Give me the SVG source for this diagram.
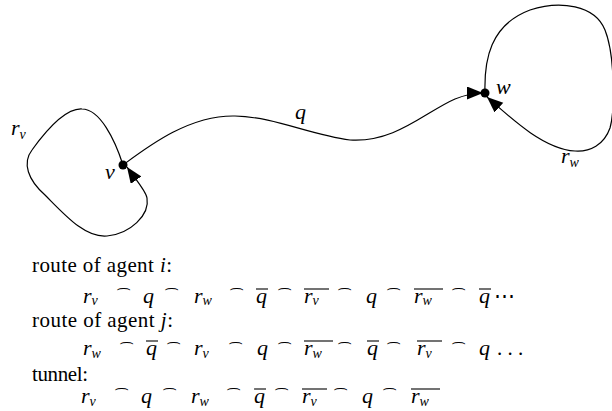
<svg xmlns="http://www.w3.org/2000/svg" width="612" height="411" viewBox="0 0 612 411">
<style>
.e{fill:none;stroke:#000;stroke-width:1.2}
.dot{fill:#000}
.rm{font-family:"Liberation Serif",serif;font-size:21px;fill:#000}
.mi{font-family:"Liberation Serif",serif;font-style:italic;font-size:22px;fill:#000}
.sb{font-size:14px}
.fr{font-family:"DejaVu Sans",sans-serif;font-size:16px;fill:#000;text-anchor:middle}
.ov{stroke:#000;stroke-width:1.1}
</style>
<defs>
<marker id="ah" markerUnits="userSpaceOnUse" markerWidth="18" markerHeight="14" refX="16" refY="6.5" orient="auto">
<path d="M0,0 L16,6.5 L0,13 Z" fill="#000"/>
</marker>
</defs>
<rect width="612" height="411" fill="#fff"/>
<g id="connectors">
<path id="q" class="e" d="M123,165 C150,145 190,115 235,116 C275,117 310,135 350,140 C395,143 425,112 455,99 C465,95 473,93 483,93" marker-end="url(#ah)"/>
<path id="rv" class="e" d="M123,165 C115,140 100,109 82,109 C65,108 45,132 32,150 C22,163 28,180 45,195 C65,215 85,238 107,236 C130,234 150,215 147,198 C146,191 136,180 127,167" marker-end="url(#ah)"/>
<path id="rw" class="e" d="M485,93 C484,60 490,25 530,10 C560,0 595,5 605,30 C615,55 615,110 610,128 C604,145 590,152 575,151 C545,149 515,122 487,97" marker-end="url(#ah)"/>
<text class="mi" x="295" y="119">q</text>
<text class="mi" x="11" y="135">r<tspan class="sb" dy="4">v</tspan></text>
<text class="mi" x="561" y="163">r<tspan class="sb" dy="4">w</tspan></text>
</g>
<g id="node-v">
<circle class="dot" cx="123" cy="165" r="4.5"/>
<text class="mi" x="105" y="179">v</text>
</g>
<g id="node-w">
<circle class="dot" cx="485" cy="93" r="4.5"/>
<text class="mi" x="496" y="94">w</text>
</g>
<g id="text">
<text class="rm" x="32" y="272" textLength="140">route of agent <tspan font-style="italic">i</tspan>:</text>
<text class="rm" x="32" y="327" textLength="141">route of agent <tspan font-style="italic">j</tspan>:</text>
<text class="rm" x="32" y="381" textLength="56">tunnel:</text>

<g id="line-i">
<text class="mi" x="83" y="303">r<tspan class="sb" dy="2">v</tspan></text>
<text class="fr" x="124" y="293" textLength="16" lengthAdjust="spacingAndGlyphs">⌢</text>
<text class="mi" x="143" y="303">q</text>
<text class="fr" x="172" y="293" textLength="16" lengthAdjust="spacingAndGlyphs">⌢</text>
<text class="mi" x="194" y="303">r<tspan class="sb" dy="2">w</tspan></text>
<text class="fr" x="237" y="293" textLength="16" lengthAdjust="spacingAndGlyphs">⌢</text>
<text class="mi" x="256" y="303">q</text>
<line class="ov" x1="256" y1="289" x2="268" y2="289"/>
<text class="fr" x="285" y="293" textLength="16" lengthAdjust="spacingAndGlyphs">⌢</text>
<text class="mi" x="304" y="303">r<tspan class="sb" dy="2">v</tspan></text>
<line class="ov" x1="304" y1="289" x2="329" y2="289"/>
<text class="fr" x="345" y="293" textLength="16" lengthAdjust="spacingAndGlyphs">⌢</text>
<text class="mi" x="366" y="303">q</text>
<text class="fr" x="394" y="293" textLength="16" lengthAdjust="spacingAndGlyphs">⌢</text>
<text class="mi" x="414" y="303">r<tspan class="sb" dy="2">w</tspan></text>
<line class="ov" x1="414" y1="289" x2="443" y2="289"/>
<text class="fr" x="459" y="293" textLength="16" lengthAdjust="spacingAndGlyphs">⌢</text>
<text class="mi" x="479" y="303">q</text>
<line class="ov" x1="479" y1="289" x2="491" y2="289"/>
<text class="rm" x="494" y="303">⋯</text>
</g>

<g id="line-j">
<text class="mi" x="83" y="355">r<tspan class="sb" dy="3">w</tspan></text>
<text class="fr" x="127" y="347" textLength="16" lengthAdjust="spacingAndGlyphs">⌢</text>
<text class="mi" x="146" y="355">q</text>
<line class="ov" x1="146" y1="341" x2="158" y2="341"/>
<text class="fr" x="174" y="347" textLength="16" lengthAdjust="spacingAndGlyphs">⌢</text>
<text class="mi" x="194" y="355">r<tspan class="sb" dy="3">v</tspan></text>
<text class="fr" x="236" y="347" textLength="16" lengthAdjust="spacingAndGlyphs">⌢</text>
<text class="mi" x="257" y="355">q</text>
<text class="fr" x="285" y="347" textLength="16" lengthAdjust="spacingAndGlyphs">⌢</text>
<text class="mi" x="304" y="355">r<tspan class="sb" dy="3">w</tspan></text>
<line class="ov" x1="304" y1="341" x2="333" y2="341"/>
<text class="fr" x="345" y="347" textLength="16" lengthAdjust="spacingAndGlyphs">⌢</text>
<text class="mi" x="367" y="355">q</text>
<line class="ov" x1="367" y1="341" x2="379" y2="341"/>
<text class="fr" x="394" y="347" textLength="16" lengthAdjust="spacingAndGlyphs">⌢</text>
<text class="mi" x="417" y="355">r<tspan class="sb" dy="3">v</tspan></text>
<line class="ov" x1="417" y1="341" x2="442" y2="341"/>
<text class="fr" x="459" y="347" textLength="16" lengthAdjust="spacingAndGlyphs">⌢</text>
<text class="mi" x="479" y="355">q</text>
<text class="rm" x="497" y="355">. . .</text>
</g>

<g id="line-t">
<text class="mi" x="81" y="403">r<tspan class="sb" dy="3">v</tspan></text>
<text class="fr" x="122" y="393" textLength="16" lengthAdjust="spacingAndGlyphs">⌢</text>
<text class="mi" x="141" y="403">q</text>
<text class="fr" x="170" y="393" textLength="16" lengthAdjust="spacingAndGlyphs">⌢</text>
<text class="mi" x="191" y="403">r<tspan class="sb" dy="3">w</tspan></text>
<text class="fr" x="234" y="393" textLength="16" lengthAdjust="spacingAndGlyphs">⌢</text>
<text class="mi" x="254" y="403">q</text>
<line class="ov" x1="254" y1="389" x2="266" y2="389"/>
<text class="fr" x="282" y="393" textLength="16" lengthAdjust="spacingAndGlyphs">⌢</text>
<text class="mi" x="302" y="403">r<tspan class="sb" dy="3">v</tspan></text>
<line class="ov" x1="302" y1="389" x2="327" y2="389"/>
<text class="fr" x="341" y="393" textLength="16" lengthAdjust="spacingAndGlyphs">⌢</text>
<text class="mi" x="362" y="403">q</text>
<text class="fr" x="390" y="393" textLength="16" lengthAdjust="spacingAndGlyphs">⌢</text>
<text class="mi" x="411" y="403">r<tspan class="sb" dy="3">w</tspan></text>
<line class="ov" x1="411" y1="389" x2="440" y2="389"/>
</g>
</g>
</svg>
